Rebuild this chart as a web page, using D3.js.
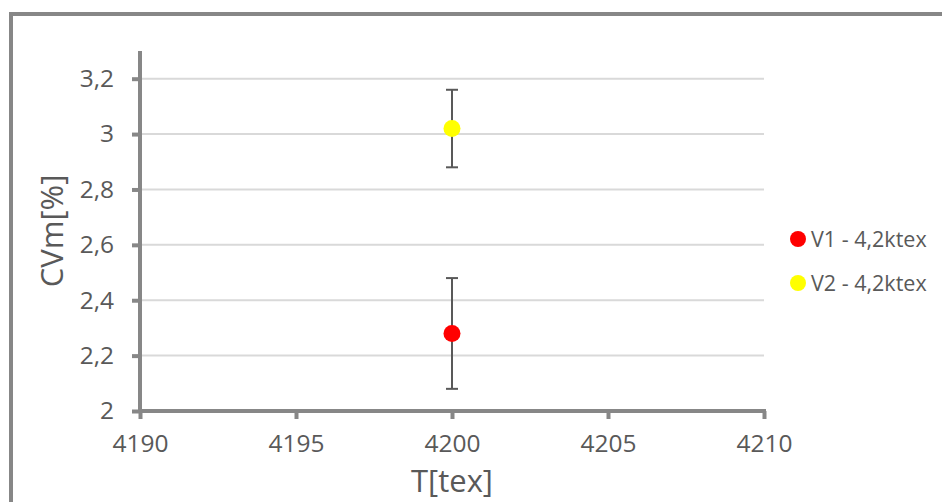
<!DOCTYPE html>
<html><head><meta charset="utf-8">
<script src="https://cdn.jsdelivr.net/npm/d3@7"></script>
<style>
html,body{margin:0;padding:0;background:#fff;}
svg{display:block;font-family:"Open Sans",sans-serif;}
</style></head>
<body>
<svg id="c" width="942" height="502"></svg>
<script>
const seriesNames = ["V1 - 4,2ktex", "V2 - 4,2ktex"];
const seriesColors = ["#ff0000", "#ffff00"];
const xValues = [4200, 4200];
const yValues = [2.28, 3.02];
const errValues = [0.20, 0.14];
const xTicks = [4190, 4195, 4200, 4205, 4210];
const yTicks = [2, 2.2, 2.4, 2.6, 2.8, 3, 3.2];
const xTitle = "T[tex]";
const yTitle = "CVm[%]";

const svg = d3.select("#c");
const axisCol = "#878787", textCol = "#595959", gridCol = "#d9d9d9";
const L = 140, R = 764, T = 51, B = 411;
const x = d3.scaleLinear().domain([4190, 4210]).range([L, R]);
const y = d3.scaleLinear().domain([2, 3.3]).range([B, T]);

// outer border
svg.append("path").attr("d", "M11,520 L11,14 L960,14")
  .attr("fill", "none").attr("stroke", axisCol).attr("stroke-width", 4);

// gridlines
svg.append("g").selectAll("line").data(yTicks.filter(d => d > 2)).join("line")
  .attr("x1", L).attr("x2", R).attr("y1", d => y(d)).attr("y2", d => y(d))
  .attr("stroke", gridCol).attr("stroke-width", 2);

const fmt = d => String(+d.toFixed(1)).replace(".", ",");

// y axis
const ya = svg.append("g").attr("transform", `translate(${L},0)`)
  .call(d3.axisLeft(y).tickValues(yTicks).tickFormat(fmt).tickSize(8).tickPadding(18));
ya.select(".domain").attr("stroke", axisCol).attr("stroke-width", 4)
  .attr("d", `M0,${T}V${B}`);
ya.selectAll(".tick line").attr("stroke", axisCol).attr("stroke-width", 4);
ya.selectAll(".tick text").attr("fill", textCol).style("font-size", "24.5px")
  .style("font-family", "'Open Sans',sans-serif");

// x axis
const xa = svg.append("g").attr("transform", `translate(0,${B})`)
  .call(d3.axisBottom(x).tickValues(xTicks).tickFormat(d3.format("d")).tickSize(8).tickPadding(16));
xa.select(".domain").attr("stroke", axisCol).attr("stroke-width", 4)
  .attr("d", `M${L - 2},0H${R + 2}`);
xa.selectAll(".tick line").attr("stroke", axisCol).attr("stroke-width", 4);
xa.selectAll(".tick text").attr("fill", textCol).style("font-size", "24.5px")
  .style("font-family", "'Open Sans',sans-serif");

// axis titles
svg.append("text").attr("x", (L + R) / 2).attr("y", 492).attr("text-anchor", "middle")
  .attr("fill", textCol).style("font-size", "31px").text(xTitle);
svg.append("text").attr("transform", `translate(63,${(T + B) / 2}) rotate(-90)`)
  .attr("text-anchor", "middle").attr("fill", textCol).style("font-size", "31px").text(yTitle);

// error bars
const data = yValues.map((v, i) => ({x: xValues[i], y: v, e: errValues[i], c: seriesColors[i], n: seriesNames[i]}));
const eb = svg.append("g").attr("stroke", "#595959").attr("stroke-width", 2);
data.forEach(d => {
  eb.append("line").attr("x1", x(d.x)).attr("x2", x(d.x)).attr("y1", y(d.y - d.e)).attr("y2", y(d.y + d.e));
  [d.y - d.e, d.y + d.e].forEach(v => {
    eb.append("line").attr("x1", x(d.x) - 6).attr("x2", x(d.x) + 6).attr("y1", y(v)).attr("y2", y(v));
  });
});

// points
svg.append("g").selectAll("circle").data(data).join("circle")
  .attr("cx", d => x(d.x)).attr("cy", d => y(d.y)).attr("r", 8.5).attr("fill", d => d.c);

// legend
const lg = svg.append("g").selectAll("g").data(data).join("g")
  .attr("transform", (d, i) => `translate(798,${239 + i * 44})`);
lg.append("circle").attr("r", 8).attr("fill", d => d.c);
lg.append("text").attr("x", 13).attr("dy", "0.36em").attr("fill", textCol)
  .style("font-size", "21.5px").text(d => d.n);
</script>
</body></html>
